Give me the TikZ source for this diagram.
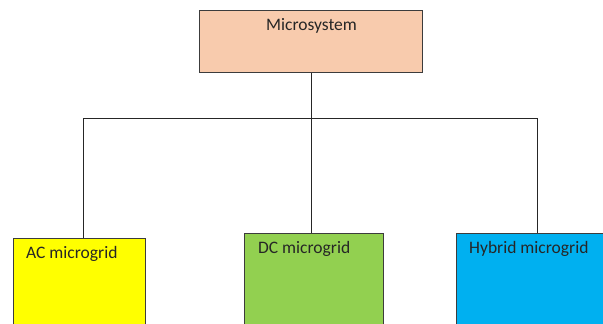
\documentclass[tikz,border=0pt]{standalone}
\usepackage{fontspec}
\setmainfont{Carlito}
\usetikzlibrary{positioning}
\definecolor{peach}{RGB}{248,203,173}
\definecolor{acyellow}{RGB}{255,255,0}
\definecolor{dcgreen}{RGB}{146,208,80}
\definecolor{hybblue}{RGB}{0,176,240}
\definecolor{edge}{RGB}{60,60,60}
\tikzset{
  blockbox/.style={draw=edge, line width=1pt, anchor=north west, inner sep=0pt},
  blocktext/.style={anchor=west, inner sep=0pt, font=\fontsize{17.5}{20}\selectfont, text=black!85},
  wire/.style={draw=black!85, line width=1pt}
}
\begin{document}
\begin{tikzpicture}[x=1pt,y=-1pt]
  \useasboundingbox (0,0) rectangle (603,324);
  \clip (0,0) rectangle (603,324);

  % top box
  \node[blockbox, fill=peach, minimum width=223pt, minimum height=62pt] (micro) at (199,10) {};
  \node[blocktext, anchor=center] (microtxt) at (311.5,26) {Microsystem};

  % lower boxes
  \node[blockbox, fill=acyellow, minimum width=132pt, minimum height=110pt] (ac) at (13,238) {};
  \node[blockbox, fill=dcgreen, minimum width=139pt, minimum height=110pt] (dc) at (244,233) {};
  \node[blockbox, fill=hybblue, minimum width=162pt, minimum height=110pt] (hyb) at (456,233) {};

  \node[blocktext] (actxt) at (26,254) {AC microgrid};
  \node[blocktext] (dctxt) at (258,249) {DC microgrid};
  \node[blocktext] (hybtxt) at (469,249) {Hybrid microgrid};

  % tree lines
  \coordinate (hub) at (micro.south |- 0,118);
  \draw[wire] (micro.south) -- (hub);
  \draw[wire] ([xshift=4pt]ac.north) |- (hub);
  \draw[wire] (dc.north -| hub) -- (hub);
  \draw[wire] (hyb.north) |- (hub);
\end{tikzpicture}
\end{document}
